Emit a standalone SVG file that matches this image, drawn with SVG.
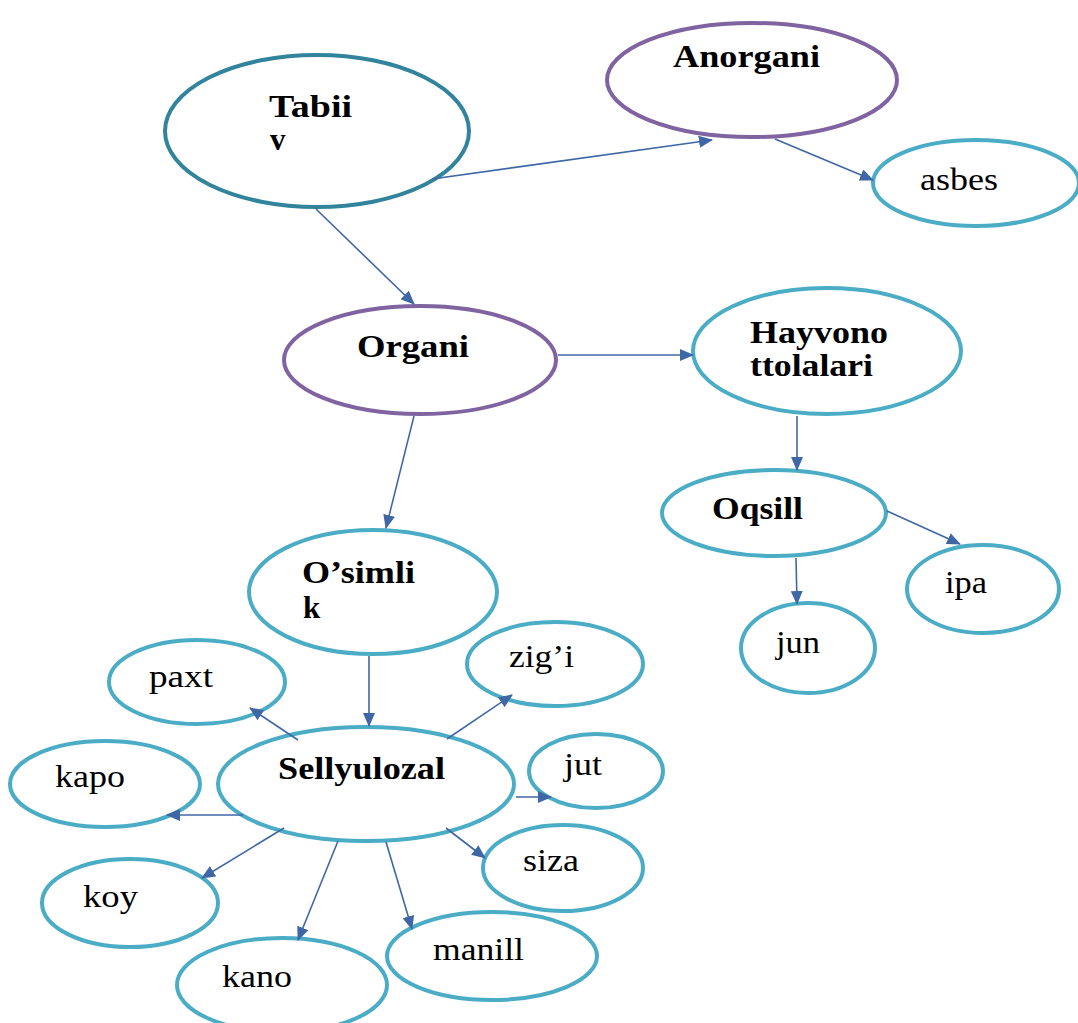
<svg xmlns="http://www.w3.org/2000/svg" width="1078" height="1023" viewBox="0 0 1078 1023">
<defs>
<marker id="ah" markerUnits="userSpaceOnUse" markerWidth="14" markerHeight="12" refX="13" refY="6" orient="auto">
<path d="M0,0 L14,6 L0,12 Z" fill="#3F67A6"/>
</marker>
<style>
.n ellipse{fill:#fff;stroke-width:4}
.teal ellipse{stroke:#31849B}
.pur ellipse{stroke:#8064A2}
.blu ellipse{stroke:#4BACC6}
.b{font-family:"Liberation Serif",serif;font-weight:bold;font-size:31px;fill:#000}
.r{font-family:"Liberation Serif",serif;font-size:31px;fill:#000}
#edges line{stroke:#3F67A6;stroke-width:1.6;marker-end:url(#ah)}
</style>
</defs>
<rect width="1078" height="1023" fill="#fff"/>
<g id="tabiiv" class="n teal"><ellipse cx="317" cy="131" rx="152" ry="76"/><text class="b" x="269" y="117" textLength="83" lengthAdjust="spacingAndGlyphs">Tabii</text><text class="b" x="270" y="150">v</text></g>
<g id="anorgani" class="n pur"><ellipse cx="752" cy="80" rx="145" ry="57"/><text class="b" x="673" y="67" textLength="147" lengthAdjust="spacingAndGlyphs">Anorgani</text></g>
<g id="asbes" class="n blu"><ellipse cx="976" cy="183" rx="103" ry="43"/><text class="r" x="920" y="190" textLength="78" lengthAdjust="spacingAndGlyphs">asbes</text></g>
<g id="organi" class="n pur"><ellipse cx="420" cy="360" rx="136" ry="54"/><text class="b" x="357" y="357" textLength="112" lengthAdjust="spacingAndGlyphs">Organi</text></g>
<g id="hayvono" class="n blu"><ellipse cx="827" cy="351" rx="134" ry="63"/><text class="b" x="750" y="343" textLength="138" lengthAdjust="spacingAndGlyphs">Hayvono</text><text class="b" x="750" y="376" textLength="123" lengthAdjust="spacingAndGlyphs">ttolalari</text></g>
<g id="oqsill" class="n blu"><ellipse cx="774" cy="513" rx="112" ry="43"/><text class="b" x="712" y="519" textLength="91" lengthAdjust="spacingAndGlyphs">Oqsill</text></g>
<g id="ipa" class="n blu"><ellipse cx="983" cy="589" rx="76" ry="44"/><text class="r" x="945" y="593" textLength="42" lengthAdjust="spacingAndGlyphs">ipa</text></g>
<g id="jun" class="n blu"><ellipse cx="808" cy="648" rx="67" ry="45"/><text class="r" x="776" y="653" textLength="44" lengthAdjust="spacingAndGlyphs">jun</text></g>
<g id="osimlik" class="n blu"><ellipse cx="373" cy="592" rx="124" ry="62"/><text class="b" x="302" y="583" textLength="113" lengthAdjust="spacingAndGlyphs">O’simli</text><text class="b" x="303" y="618">k</text></g>
<g id="sellyulozal" class="n blu"><ellipse cx="366" cy="784" rx="148" ry="57"/><text class="b" x="278" y="779" textLength="167" lengthAdjust="spacingAndGlyphs">Sellyulozal</text></g>
<g id="paxt" class="n blu"><ellipse cx="197" cy="682" rx="88" ry="42"/><text class="r" x="149" y="687" textLength="64" lengthAdjust="spacingAndGlyphs">paxt</text></g>
<g id="zigi" class="n blu"><ellipse cx="555" cy="664" rx="88" ry="42"/><text class="r" x="509" y="667" textLength="65" lengthAdjust="spacingAndGlyphs">zig’i</text></g>
<g id="kapo" class="n blu"><ellipse cx="105" cy="784" rx="95" ry="43"/><text class="r" x="55" y="787" textLength="70" lengthAdjust="spacingAndGlyphs">kapo</text></g>
<g id="jut" class="n blu"><ellipse cx="596" cy="771" rx="67" ry="37"/><text class="r" x="564" y="775" textLength="38" lengthAdjust="spacingAndGlyphs">jut</text></g>
<g id="koy" class="n blu"><ellipse cx="130" cy="903" rx="88" ry="44"/><text class="r" x="83" y="907" textLength="55" lengthAdjust="spacingAndGlyphs">koy</text></g>
<g id="siza" class="n blu"><ellipse cx="563" cy="868" rx="80" ry="43"/><text class="r" x="523" y="871" textLength="56" lengthAdjust="spacingAndGlyphs">siza</text></g>
<g id="manill" class="n blu"><ellipse cx="492" cy="956" rx="105" ry="44"/><text class="r" x="433" y="960" textLength="91" lengthAdjust="spacingAndGlyphs">manill</text></g>
<g id="kano" class="n blu"><ellipse cx="282" cy="985" rx="105" ry="47"/><text class="r" x="222" y="987" textLength="70" lengthAdjust="spacingAndGlyphs">kano</text></g>
<g id="edges">
<line x1="432" y1="179" x2="712" y2="140"/>
<line x1="775" y1="139" x2="873" y2="180"/>
<line x1="316" y1="209" x2="414" y2="304"/>
<line x1="558" y1="355" x2="693" y2="355"/>
<line x1="414" y1="416" x2="386" y2="528"/>
<line x1="797" y1="416" x2="797" y2="470"/>
<line x1="887" y1="511" x2="960" y2="544"/>
<line x1="796" y1="558" x2="797" y2="604"/>
<line x1="369" y1="656" x2="369" y2="726"/>
<line x1="298" y1="740" x2="250" y2="708"/>
<line x1="447" y1="739" x2="512" y2="695"/>
<line x1="243" y1="815" x2="167" y2="815"/>
<line x1="516" y1="797" x2="551" y2="797"/>
<line x1="284" y1="828" x2="202" y2="878"/>
<line x1="338" y1="841" x2="298" y2="940"/>
<line x1="386" y1="842" x2="412" y2="929"/>
<line x1="446" y1="828" x2="485" y2="858"/>
</g>
</svg>
